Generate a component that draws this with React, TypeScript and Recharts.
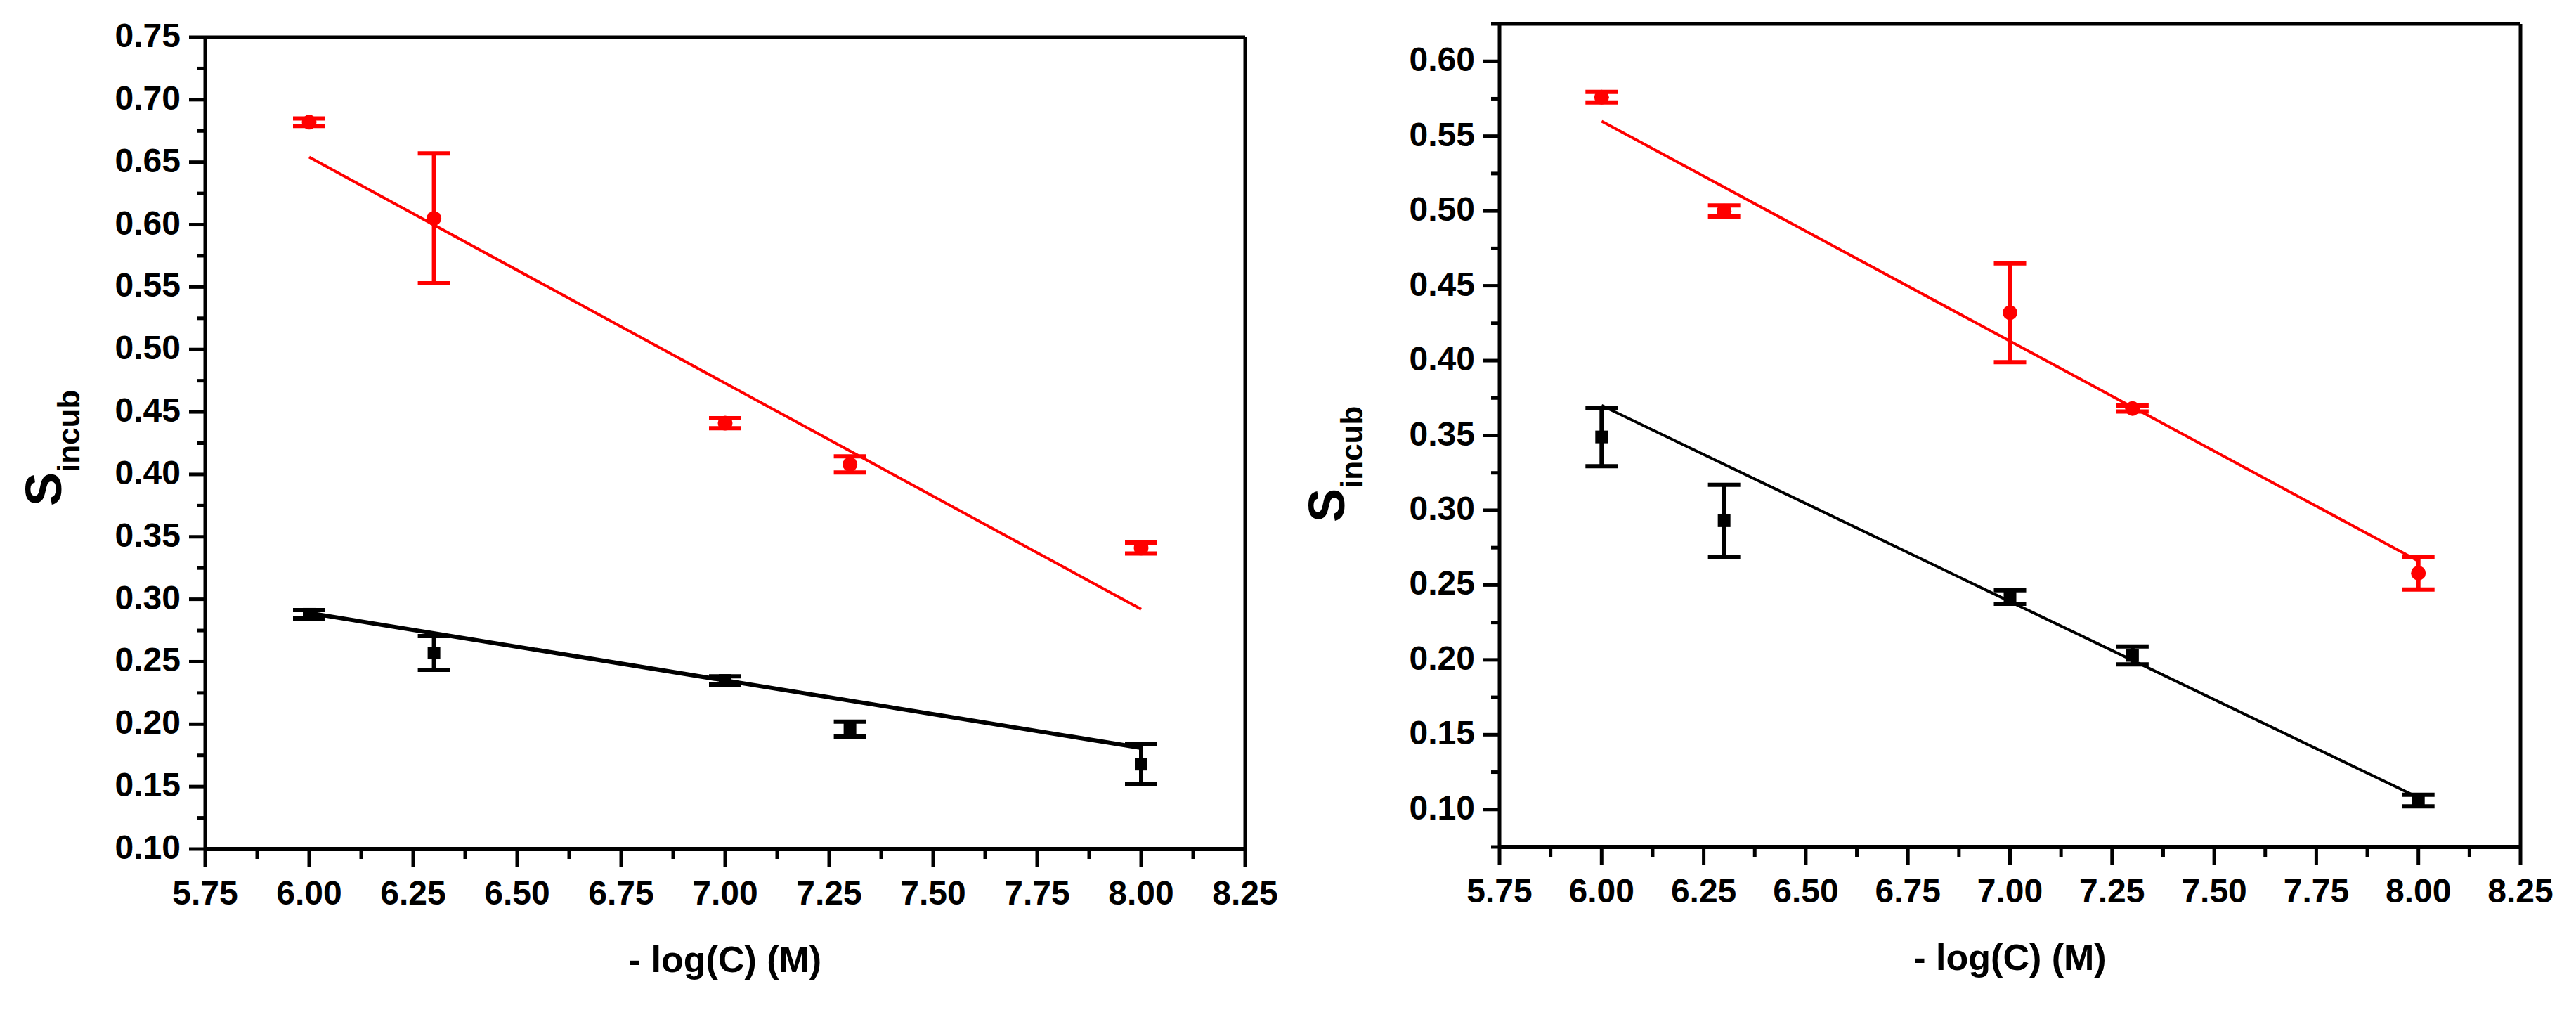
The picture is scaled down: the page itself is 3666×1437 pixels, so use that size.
import React from 'react';
import { ComposedChart, Scatter, ErrorBar, XAxis, YAxis } from 'recharts';

// concentrations on the x axis (- log C)
const concX = [6.0, 6.3, 7.0, 7.3, 8.0];
const fitX = [6.0, 8.0];

// left panel
const leftRedY = [0.682, 0.605, 0.441, 0.408, 0.341];
const leftRedErr = [0.003, 0.052, 0.004, 0.0065, 0.0044];
const leftBlackY = [0.288, 0.257, 0.235, 0.196, 0.168];
const leftBlackErr = [0.0034, 0.0135, 0.0033, 0.006, 0.016];
const leftRedFitY = [0.654, 0.292];
const leftBlackFitY = [0.289, 0.181];

// right panel
const rightRedY = [0.576, 0.5, 0.432, 0.368, 0.258];
const rightRedErr = [0.0035, 0.0037, 0.033, 0.002, 0.011];
const rightBlackY = [0.349, 0.293, 0.242, 0.203, 0.106];
const rightBlackErr = [0.0195, 0.024, 0.0045, 0.006, 0.0039];
const rightRedFitY = [0.56, 0.266];
const rightBlackFitY = [0.37, 0.108];

// ticks
const xTicks = [5.75, 5.875, 6.0, 6.125, 6.25, 6.375, 6.5, 6.625, 6.75, 6.875, 7.0, 7.125, 7.25, 7.375, 7.5, 7.625, 7.75, 7.875, 8.0, 8.125, 8.25];
const topTicks = [5.75, 6.0, 6.25, 6.5, 6.75, 7.0, 7.25, 7.5, 7.75, 8.0, 8.25];
const leftYTicks = [0.1, 0.125, 0.15, 0.175, 0.2, 0.225, 0.25, 0.275, 0.3, 0.325, 0.35, 0.375, 0.4, 0.425, 0.45, 0.475, 0.5, 0.525, 0.55, 0.575, 0.6, 0.625, 0.65, 0.675, 0.7, 0.725, 0.75];
const rightYTicks = [0.075, 0.1, 0.125, 0.15, 0.175, 0.2, 0.225, 0.25, 0.275, 0.3, 0.325, 0.35, 0.375, 0.4, 0.425, 0.45, 0.475, 0.5, 0.525, 0.55, 0.575, 0.6, 0.625];
const sideTicks = [1, 2, 3, 4, 5, 6, 7, 8, 9];

const FONT = '"Liberation Sans", Arial, Helvetica, sans-serif';

const onStep = (v: number, step: number) => Math.abs(v / step - Math.round(v / step)) < 1e-6;

const pts = (ys: number[], errs: number[]) => concX.map((x, i) => ({ x, y: ys[i], err: errs[i] }));
const fit = (ys: number[]) => fitX.map((x, i) => ({ x, y: ys[i] }));

const LeftTick = (props: any) => {
  const { x, y, payload } = props;
  const v = payload.value;
  const major = onStep(v, 0.05);
  return (
    <g>
      <line x1={x - (major ? 23 : 12)} x2={x} y1={y} y2={y} stroke="#000" strokeWidth={5} />
      {major && (
        <text x={x - 35} y={y + 14} textAnchor="end" fontSize={48} fontWeight="bold" fontFamily={FONT} fill="#000">
          {v.toFixed(2)}
        </text>
      )}
    </g>
  );
};

const BottomTick = (props: any) => {
  const { x, y, payload } = props;
  const v = payload.value;
  const major = onStep(v - 5.75, 0.25);
  return (
    <g>
      <line x1={x} x2={x} y1={y} y2={y + (major ? 25 : 14)} stroke="#000" strokeWidth={5} />
      {major && (
        <text x={x} y={y + 79} textAnchor="middle" fontSize={48} fontWeight="bold" fontFamily={FONT} fill="#000">
          {v.toFixed(2)}
        </text>
      )}
    </g>
  );
};

const TopTick = (props: any) => {
  const { x, y, payload } = props;
  const long = onStep(payload.value - 5.75, 0.5);
  return <line x1={x} x2={x} y1={y} y2={y + (long ? 25 : 14)} stroke="#000" strokeWidth={5} />;
};

const SideTick = (props: any) => {
  const { x, y, payload } = props;
  const long = payload.value % 2 === 0;
  return <line x1={x - (long ? 23 : 11)} x2={x} y1={y} y2={y} stroke="#000" strokeWidth={5} />;
};

const Circle = (p: any) => <circle cx={p.cx} cy={p.cy} r={10.5} fill="#ff0000" />;
const Square = (p: any) => <rect x={p.cx - 9} y={p.cy - 9} width={18} height={18} fill="#000" />;
const NoMark = () => <g />;

type PanelProps = {
  left: number;
  width: number;
  top: number;
  right: number;
  yAxisWidth: number;
  xAxisHeight: number;
  yDomain: [number, number];
  yTicks: number[];
  red: { x: number; y: number; err: number }[];
  black: { x: number; y: number; err: number }[];
  redFit: { x: number; y: number }[];
  blackFit: { x: number; y: number }[];
  blackFitWidth: number;
  titleX: number;
  titleY: number;
};

const Panel = (p: PanelProps) => {
  const yTitle = () => (
    <text transform={`translate(${p.titleX},${p.titleY}) rotate(-90)`} fontFamily={FONT} fontWeight="bold" fill="#000">
      <tspan fontSize={72}>S</tspan>
      <tspan fontSize={44} dy={26}>incub</tspan>
    </text>
  );
  const xTitle = (props: any) => {
    const vb = props.viewBox;
    return (
      <text x={vb.x + vb.width / 2} y={vb.y + 175} textAnchor="middle" fontSize={52} fontWeight="bold" fontFamily={FONT} fill="#000">
        - log(C) (M)
      </text>
    );
  };
  // top and right axes get a 1px band so Recharts still draws them
  return (
    <div style={{ position: 'absolute', left: p.left, top: 0 }}>
      <ComposedChart width={p.width} height={1437} margin={{ top: p.top - 1, right: p.right - 1, bottom: 0, left: 0 }}>
        <XAxis
          xAxisId={0}
          type="number"
          dataKey="x"
          domain={[5.75, 8.25]}
          ticks={xTicks}
          interval={0}
          height={p.xAxisHeight}
          tickSize={0}
          tickMargin={0}
          tickLine={false}
          tick={BottomTick}
          axisLine={{ stroke: '#000', strokeWidth: 6 }}
          label={xTitle}
        />
        <XAxis
          xAxisId="top"
          orientation="top"
          type="number"
          dataKey="x"
          domain={[5.75, 8.25]}
          ticks={topTicks}
          interval={0}
          height={1}
          tickSize={0}
          tickMargin={0}
          tickLine={false}
          tick={TopTick}
          axisLine={{ stroke: '#000', strokeWidth: 5 }}
        />
        <YAxis
          yAxisId={0}
          type="number"
          dataKey="y"
          domain={p.yDomain}
          ticks={p.yTicks}
          interval={0}
          width={p.yAxisWidth}
          tickSize={0}
          tickMargin={0}
          tickLine={false}
          tick={LeftTick}
          axisLine={{ stroke: '#000', strokeWidth: 5 }}
          label={yTitle}
        />
        <YAxis
          yAxisId="side"
          orientation="right"
          type="number"
          domain={[0, 10]}
          ticks={sideTicks}
          interval={0}
          width={1}
          tickSize={0}
          tickMargin={0}
          tickLine={false}
          tick={SideTick}
          axisLine={{ stroke: '#000', strokeWidth: 5 }}
        />
        <Scatter data={p.redFit} line={{ stroke: '#ff0000', strokeWidth: 4 }} shape={NoMark} isAnimationActive={false} />
        <Scatter data={p.blackFit} line={{ stroke: '#000', strokeWidth: p.blackFitWidth }} shape={NoMark} isAnimationActive={false} />
        <Scatter data={p.red} shape={Circle} isAnimationActive={false}>
          <ErrorBar dataKey="err" direction="y" width={23} stroke="#ff0000" strokeWidth={6} />
        </Scatter>
        <Scatter data={p.black} shape={Square} isAnimationActive={false}>
          <ErrorBar dataKey="err" direction="y" width={23} stroke="#000" strokeWidth={6} />
        </Scatter>
      </ComposedChart>
    </div>
  );
};

export default function App() {
  return (
    <div style={{ position: 'absolute', left: 0, top: 0, width: 3666, height: 1437, background: '#fff' }}>
      <Panel
        left={0}
        width={1840}
        top={53}
        right={68}
        yAxisWidth={292}
        xAxisHeight={229}
        yDomain={[0.1, 0.75]}
        yTicks={leftYTicks}
        red={pts(leftRedY, leftRedErr)}
        black={pts(leftBlackY, leftBlackErr)}
        redFit={fit(leftRedFitY)}
        blackFit={fit(leftBlackFitY)}
        blackFitWidth={6}
        titleX={87}
        titleY={720}
      />
      <Panel
        left={1840}
        width={1826}
        top={34}
        right={79}
        yAxisWidth={294}
        xAxisHeight={232}
        yDomain={[0.075, 0.625]}
        yTicks={rightYTicks}
        red={pts(rightRedY, rightRedErr)}
        black={pts(rightBlackY, rightBlackErr)}
        redFit={fit(rightRedFitY)}
        blackFit={fit(rightBlackFitY)}
        blackFitWidth={4}
        titleX={73}
        titleY={743}
      />
    </div>
  );
}
